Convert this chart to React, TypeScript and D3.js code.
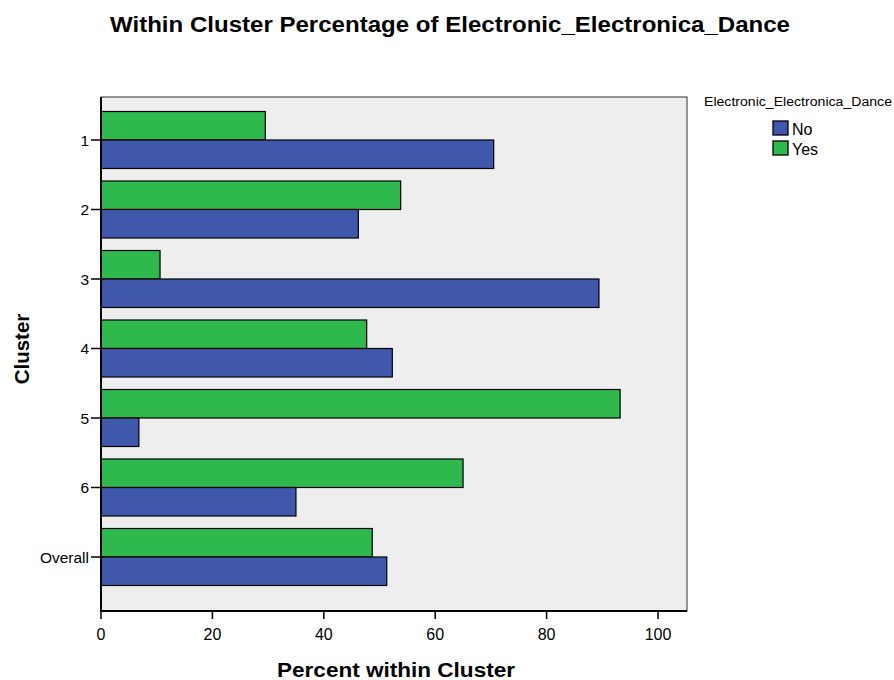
import React from "react";
import * as d3 from "d3";

const categories = ["1", "2", "3", "4", "5", "6", "Overall"];
const yesValues = [29.5, 53.8, 10.6, 47.7, 93.2, 65.0, 48.7];
const noValues = [70.5, 46.2, 89.4, 52.3, 6.8, 35.0, 51.3];
const xTicks = [0, 20, 40, 60, 80, 100];
const seriesNames = ["No", "Yes"];
const seriesColors = ["#3F58AB", "#2FB84B"];

export default function App() {
  const W = 894, H = 680;
  const left = 101, right = 687, top = 97, bottom = 611;
  const x = d3.scaleLinear().domain([0, 100]).range([left, 658]);
  const y = d3.scaleBand<string>().domain(categories).range([105.25, 591.75]).padding(0);
  const bh = y.bandwidth() * 0.41;
  const font = "Arial, 'Liberation Sans', sans-serif";
  return (
    <svg width={W} height={H} style={{ position: "absolute", left: 0, top: 0 }} fontFamily={font}>
      <rect x={0} y={0} width={W} height={H} fill="#ffffff" />
      <text x={110} y={32} fontSize={21.5} fontWeight="bold" fill="#000" textLength={680} lengthAdjust="spacingAndGlyphs">
        Within Cluster Percentage of Electronic_Electronica_Dance
      </text>
      <rect x={left} y={top} width={right - left} height={bottom - top} fill="#EEEEEE" stroke="#333" strokeWidth={1} />
      {categories.map((c, i) => {
        const cy = (y(c) as number) + y.bandwidth() / 2;
        return (
          <g key={c}>
            <rect x={x(0)} y={cy - bh} width={x(yesValues[i]) - x(0)} height={bh} fill={seriesColors[1]} stroke="#000" strokeWidth={1.2} />
            <rect x={x(0)} y={cy} width={x(noValues[i]) - x(0)} height={bh} fill={seriesColors[0]} stroke="#000" strokeWidth={1.2} />
            <line x1={left - 10} x2={left} y1={cy} y2={cy} stroke="#000" strokeWidth={1.5} />
            <text x={left - 12} y={cy + 5.5} textAnchor="end" fontSize={15.5} fill="#000">{c}</text>
          </g>
        );
      })}
      <line x1={left} x2={left} y1={top} y2={bottom} stroke="#000" strokeWidth={2} />
      <line x1={left} x2={right} y1={bottom} y2={bottom} stroke="#000" strokeWidth={2} />
      {xTicks.map((t) => (
        <g key={t}>
          <line x1={x(t)} x2={x(t)} y1={bottom} y2={bottom + 8} stroke="#000" strokeWidth={1.5} />
          <text x={x(t)} y={bottom + 29} textAnchor="middle" fontSize={16} fill="#000">{t}</text>
        </g>
      ))}
      <text x={277} y={677} fontSize={20} fontWeight="bold" fill="#000" textLength={238} lengthAdjust="spacingAndGlyphs">Percent within Cluster</text>
      <text transform="translate(29,349) rotate(-90)" textAnchor="middle" fontSize={20.5} fontWeight="bold" fill="#000">Cluster</text>
      <text x={704} y={106} fontSize={12.5} fill="#000" textLength={188} lengthAdjust="spacingAndGlyphs">Electronic_Electronica_Dance</text>
      {seriesNames.map((s, i) => (
        <g key={s}>
          <rect x={773} y={121 + i * 20} width={15} height={14} fill={seriesColors[i]} stroke="#000" strokeWidth={1.3} />
          <text x={792} y={135 + i * 20} fontSize={16} fill="#000">{s}</text>
        </g>
      ))}
    </svg>
  );
}
